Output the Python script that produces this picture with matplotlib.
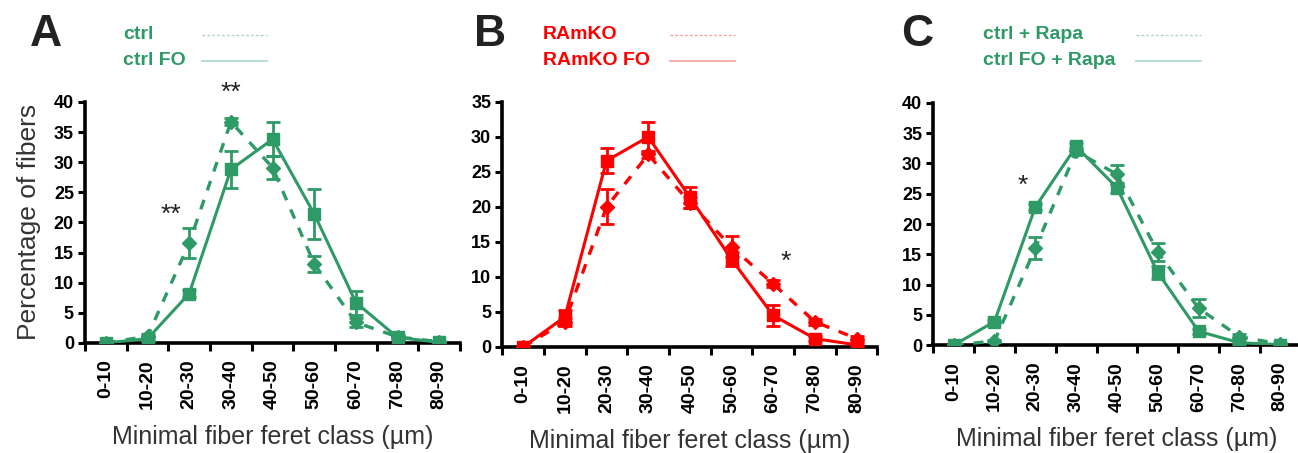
import numpy as np
import matplotlib
matplotlib.use("Agg")
import matplotlib.pyplot as plt

plt.rcParams['font.family'] = ['Liberation Sans', 'DejaVu Sans']

classes = ['0-10', '10-20', '20-30', '30-40', '40-50', '50-60', '60-70', '70-80', '80-90']

# Panel A
ctrl = [0, 1.1, 16.6, 36.7, 29.1, 13.1, 3.4, 1.0, 0.2]
ctrl_err = [0, 0.3, 2.5, 0.6, 1.9, 1.3, 0.8, 0.3, 0.1]
ctrl_fo = [0, 0.7, 8.2, 28.8, 33.8, 21.4, 6.7, 0.9, 0.1]
ctrl_fo_err = [0, 0.3, 0.6, 3.1, 2.8, 4.2, 2.0, 0.3, 0.1]

# Panel B
ramko = [0, 3.6, 20.0, 27.5, 20.6, 14.3, 9.0, 3.6, 1.2]
ramko_err = [0, 0.6, 2.5, 0.5, 0.8, 1.5, 0.5, 0.4, 0.3]
ramko_fo = [0, 4.3, 26.6, 30.0, 21.4, 12.5, 4.5, 1.2, 0.3]
ramko_fo_err = [0, 1.0, 1.8, 2.1, 1.5, 1.0, 1.5, 0.3, 0.2]

# Panel C
rapa = [0, 0.7, 16.0, 32.0, 28.2, 15.4, 6.1, 1.4, 0.2]
rapa_err = [0, 0.2, 1.8, 0.6, 1.6, 1.5, 1.5, 0.4, 0.1]
rapa_fo = [0, 3.9, 22.8, 32.8, 26.0, 12.0, 2.3, 0.4, 0.1]
rapa_fo_err = [0, 0.3, 0.5, 0.6, 0.8, 1.0, 0.4, 0.2, 0.1]

green = '#2e9a66'
red = '#ff0000'

fig = plt.figure(figsize=(12.98, 4.53), dpi=100)

panels = [
    dict(rect=[0.0655, 0.243, 0.289, 0.532], ymax=40, color=green,
         dashed=(ctrl, ctrl_err), solid=(ctrl_fo, ctrl_fo_err),
         names=['ctrl', 'ctrl FO'], letter='A',
         stars=[(1.55, 21.3, '**'), (3.0, 41.5, '**')], ylabel=True,
         letter_x=0.023, leg_x=0.095, line_x=(0.156, 0.206)),
    dict(rect=[0.387, 0.234, 0.289, 0.541], ymax=35, color=red,
         dashed=(ramko, ramko_err), solid=(ramko_fo, ramko_fo_err),
         names=['RAmKO', 'RAmKO FO'], letter='B',
         stars=[(6.3, 12.2, '*')], ylabel=False,
         letter_x=0.365, leg_x=0.418, line_x=(0.516, 0.566)),
    dict(rect=[0.719, 0.238, 0.283, 0.535], ymax=40, color=green,
         dashed=(rapa, rapa_err), solid=(rapa_fo, rapa_fo_err),
         names=['ctrl + Rapa', 'ctrl FO + Rapa'], letter='C',
         stars=[(1.7, 26.3, '*')], ylabel=False,
         letter_x=0.694, leg_x=0.757, line_x=(0.875, 0.925)),
]

x = np.arange(len(classes))
for p in panels:
    ax = fig.add_axes(p['rect'])
    c = p['color']
    y_d, e_d = p['dashed']
    y_s, e_s = p['solid']
    ax.errorbar(x, y_d, yerr=e_d, color=c, lw=2.4, ls=(0, (3, 3)), marker='D',
                ms=7, capsize=5, elinewidth=2, capthick=2, zorder=3)
    ax.errorbar(x, y_s, yerr=e_s, color=c, lw=2.2, ls='-', marker='s',
                ms=9, capsize=5, elinewidth=2, capthick=2, zorder=4)

    ax.set_xlim(-0.5, len(classes) - 0.5)
    ax.set_ylim(0, p['ymax'])
    ax.set_yticks(np.arange(0, p['ymax'] + 1, 5))
    ax.set_xticks(np.arange(-0.5, len(classes), 1))
    ax.set_xticklabels([])
    ax.set_xticks(x, minor=True)
    ax.set_xticklabels(classes, minor=True, rotation=90, fontsize=14, fontweight='bold')
    ax.tick_params(axis='x', which='minor', length=0, pad=12)
    ax.tick_params(axis='x', which='major', length=6, width=2.2, direction='out')
    ax.tick_params(axis='y', length=5, width=2.2, direction='out', pad=3)
    for lab in ax.get_yticklabels():
        lab.set_fontsize(13)
        lab.set_fontweight('bold')
    for s in ['top', 'right']:
        ax.spines[s].set_visible(False)
    for s in ['left', 'bottom']:
        ax.spines[s].set_linewidth(2.6)
    ax.patch.set_visible(False)

    for sx, sy, st in p['stars']:
        ax.text(sx, sy, st, ha='center', va='center', fontsize=19, color='#222222',
                clip_on=False)

    ax.set_xlabel('Minimal fiber feret class (µm)', fontsize=18, color='#333333',
                  labelpad=11)
    if p['ylabel']:
        ax.set_ylabel('Percentage of fibers', fontsize=19, color='#333333',
                      labelpad=9)

    fig.text(p['letter_x'], 0.923, p['letter'], fontsize=32, fontweight='bold',
             color='#222222', va='center')
    fig.text(p['leg_x'], 0.923, p['names'][0], fontsize=14, fontweight='bold',
             color=c, va='center')
    fig.text(p['leg_x'], 0.866, p['names'][1], fontsize=14, fontweight='bold',
             color=c, va='center')
    light = '#a9d9c3' if c == green else '#f5a0a0'
    fig.add_artist(plt.Line2D(p['line_x'], [0.923, 0.923], color=light, lw=1,
                              ls=(0, (2, 1.5))))
    fig.add_artist(plt.Line2D(p['line_x'], [0.866, 0.866], color=light, lw=1.2))

fig.savefig('out.png', dpi=100)
